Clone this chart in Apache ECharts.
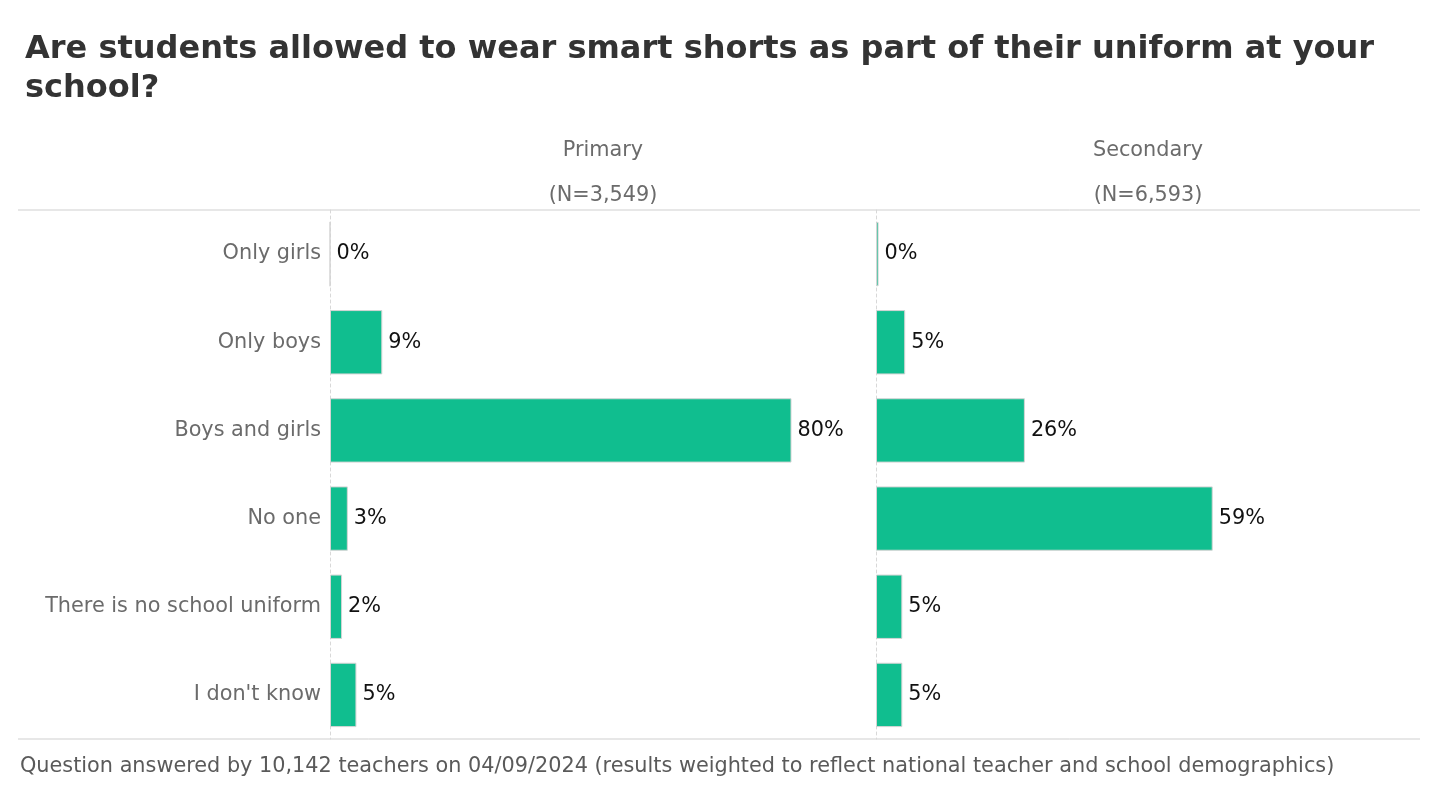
<!DOCTYPE html>
<html>
<head>
<meta charset="utf-8">
<script src="https://cdn.jsdelivr.net/npm/echarts@6/dist/echarts.min.js"></script>
<style>
html,body{margin:0;padding:0;background:#fff;}
#chart{width:1440px;height:800px;}
</style>
</head>
<body>
<div id="chart"></div>
<script>
const titleText = "Are students allowed to wear smart shorts as part of their uniform at your\nschool?";
const footerText = "Question answered by 10,142 teachers on 04/09/2024 (results weighted to reflect national teacher and school demographics)";
const categories = ["Only girls", "Only boys", "Boys and girls", "No one", "There is no school uniform", "I don't know"];
const panelNames = ["Primary", "Secondary"];
const panelNs = ["(N=3,549)", "(N=6,593)"];
const primaryValues = [0, 9.1, 80.3, 3.1, 2.1, 4.6];
const secondaryValues = [0.45, 5.1, 26.0, 58.8, 4.6, 4.6];

const FONT = "DejaVu Sans";
const FS = 20.8;
const GREEN = "#10BE8F";
const chart = echarts.init(document.getElementById('chart'));

const gridTop = 210, gridH = 529;
const grids = [
  {left: 330, top: gridTop, width: 546, height: gridH},
  {left: 876, top: gridTop, width: 544, height: gridH}
];

function xAx(i){
  return {type:'value', gridIndex:i, min:0, max:95, show:true,
    axisLine:{show:false}, axisTick:{show:false}, axisLabel:{show:false}, splitLine:{show:false}};
}
function yAx(i){
  return {type:'category', gridIndex:i, data:categories, inverse:true,
    axisLine:{show:true, lineStyle:{color:'#d8d8d8', type:[3,3], width:1}},
    axisTick:{show:false},
    axisLabel:{show:i===0, fontFamily:FONT, fontSize:FS, color:'#6b6b6b', margin:9}};
}
function series(i, vals){
  return {type:'bar', xAxisIndex:i, yAxisIndex:i, data:vals, barCategoryGap:'27%',
    itemStyle:{color:GREEN, borderColor:'#d4d4d4', borderWidth:1},
    label:{show:true, position:'right', distance:6, fontFamily:FONT, fontSize:FS, color:'#111',
      formatter:p=>Math.round(p.value)+'%'},
    silent:true, animation:false};
}

const graphics = [
  {type:'line', shape:{x1:18,y1:gridTop,x2:1420,y2:gridTop}, style:{stroke:'#cfcfcf', lineWidth:1}},
  {type:'line', shape:{x1:18,y1:gridTop+gridH,x2:1420,y2:gridTop+gridH}, style:{stroke:'#cfcfcf', lineWidth:1}},
  {type:'text', x:20, y:767, style:{text:footerText, fontFamily:FONT, fontSize:FS, fill:'#5a5a5a', verticalAlign:'middle'}}
];
grids.forEach((g,i)=>{
  const cx = g.left + g.width/2;
  graphics.push({type:'text', x:cx, y:151, style:{text:panelNames[i], fontFamily:FONT, fontSize:FS, fill:'#6b6b6b', align:'center', verticalAlign:'middle'}});
  graphics.push({type:'text', x:cx, y:196, style:{text:panelNs[i], fontFamily:FONT, fontSize:FS, fill:'#6b6b6b', align:'center', verticalAlign:'middle'}});
});

chart.setOption({
  backgroundColor:'#fff',
  animation:false,
  title:{text:titleText, left:20, top:25, textStyle:{fontFamily:FONT, fontSize:32, fontWeight:'bold', color:'#333', lineHeight:39}},
  grid:grids,
  xAxis:[xAx(0), xAx(1)],
  yAxis:[yAx(0), yAx(1)],
  series:[series(0, primaryValues), series(1, secondaryValues)],
  graphic:graphics
});
</script>
</body>
</html>
